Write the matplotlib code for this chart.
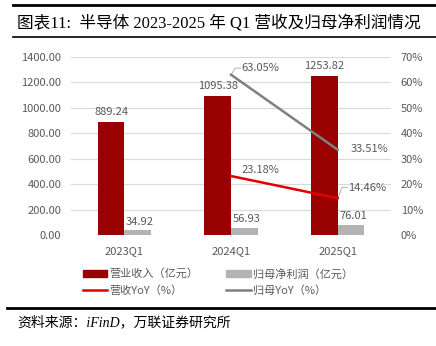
import matplotlib
matplotlib.use('Agg')
import matplotlib.pyplot as plt
import numpy as np
from matplotlib.lines import Line2D
from matplotlib.patches import Patch

plt.rcParams['font.family'] = ['Noto Sans CJK SC', 'DejaVu Sans']

quarters = ['2023Q1', '2024Q1', '2025Q1']
revenue = [889.24, 1095.38, 1253.82]
net_profit = [34.92, 56.93, 76.01]
rev_yoy = [None, 23.18, 14.46]
np_yoy = [None, 63.05, 33.51]

RED = '#990000'
GRAY = '#b3b3b3'
LRED = '#e00000'
LGRAY = '#808080'
TXT = '#595959'

fig = plt.figure(figsize=(4.36, 3.46), dpi=100)
ax = fig.add_axes([0.163, 0.321, 0.734, 0.514])
ax2 = ax.twinx()

x = np.arange(len(quarters))
w = 0.25
ax.bar(x - w / 2, revenue, w, color=RED, zorder=2)
ax.bar(x + w / 2, net_profit, w, color=GRAY, zorder=2)

ax.set_xlim(-0.5, 2.5)
ax.set_ylim(0, 1400)
ax.set_yticks(np.arange(0, 1401, 200))
ax.set_yticklabels([f'{v:.2f}' for v in np.arange(0, 1401, 200)])
ax.set_xticks(x)
ax.set_xticklabels(quarters)
ax.grid(axis='y', color='#d9d9d9', lw=0.8, zorder=0)
ax.set_axisbelow(True)

ax2.set_ylim(0, 70)
ax2.set_yticks(np.arange(0, 71, 10))
ax2.set_yticklabels([f'{v}%' for v in range(0, 71, 10)])

for a in (ax, ax2):
    for s in a.spines.values():
        s.set_visible(False)
    a.tick_params(length=0, labelsize=8, colors=TXT)
ax.tick_params(axis='x', pad=8)
ax.tick_params(axis='y', pad=7)
ax2.tick_params(axis='y', pad=7)

# bar value labels
for i, v in enumerate(revenue):
    ax.text(x[i] - w / 2, v + 40, f'{v:.2f}', ha='center', va='bottom',
            fontsize=8, color=TXT)
for i, v in enumerate(net_profit):
    ax.text(x[i] + w / 2 + 0.02, v + 30, f'{v:.2f}', ha='center', va='bottom',
            fontsize=8, color=TXT)

# YoY lines (2024Q1 onward)
xl = x[1:]
ax2.plot(xl, rev_yoy[1:], color=LRED, lw=1.8, zorder=3)
ax2.plot(xl, np_yoy[1:], color=LGRAY, lw=1.8, zorder=3)

ax2.text(xl[0] + 0.1, rev_yoy[1] + 2.5, f'{rev_yoy[1]:.2f}%', fontsize=8,
         color=TXT, va='center')
ax2.text(xl[1] + 0.12, np_yoy[2] + 0.3, f'{np_yoy[2]:.2f}%', fontsize=8,
         color=TXT, va='center')

# leader-line labels
ax2.plot([xl[0], xl[0] + 0.04, xl[0] + 0.09], [np_yoy[1], np_yoy[1] + 2.6, np_yoy[1] + 2.6],
         color='#a6a6a6', lw=0.6)
ax2.text(xl[0] + 0.1, np_yoy[1] + 2.6, f'{np_yoy[1]:.2f}%', fontsize=8,
         color=TXT, va='center')
ax2.plot([xl[1], xl[1] + 0.04, xl[1] + 0.09], [rev_yoy[2], rev_yoy[2] + 4.2, rev_yoy[2] + 4.2],
         color='#a6a6a6', lw=0.6)
ax2.text(xl[1] + 0.1, rev_yoy[2] + 4.2, f'{rev_yoy[2]:.2f}%', fontsize=8,
         color=TXT, va='center')

handles = [
    Patch(color=RED),
    Line2D([], [], color=LRED, lw=1.8),
    Patch(color=GRAY),
    Line2D([], [], color=LGRAY, lw=1.8),
]
labels = ['营业收入（亿元）', '营收YoY（%）', '归母净利润（亿元）', '归母YoY（%）']
fig.legend(handles, labels, ncol=2, loc='center', bbox_to_anchor=(0.5, 0.185),
           frameon=False, fontsize=8, labelcolor=TXT, handlelength=2.2,
           handletextpad=0.2, columnspacing=2.5, labelspacing=0.5)

# header / footer
serif_cjk = ['Liberation Serif', 'Noto Sans CJK SC']
fig.add_artist(Line2D([0.03, 1.0], [0.986, 0.986], color='black', lw=2))
fig.add_artist(Line2D([0.03, 1.0], [0.893, 0.893], color='black', lw=1.2))
fig.text(0.04, 0.932, '图表11:  半导体 2023-2025 年 Q1 营收及归母净利润情况',
         fontsize=12, va='center', color='black', family=serif_cjk)
fig.add_artist(Line2D([0.015, 1.0], [0.11, 0.11], color='black', lw=2))
fig.text(0.04, 0.068, '资料来源：iFinD，万联证券研究所', fontsize=10,
         va='center', style='italic', color='black', family=serif_cjk)

fig.savefig('out.png', dpi=100)
